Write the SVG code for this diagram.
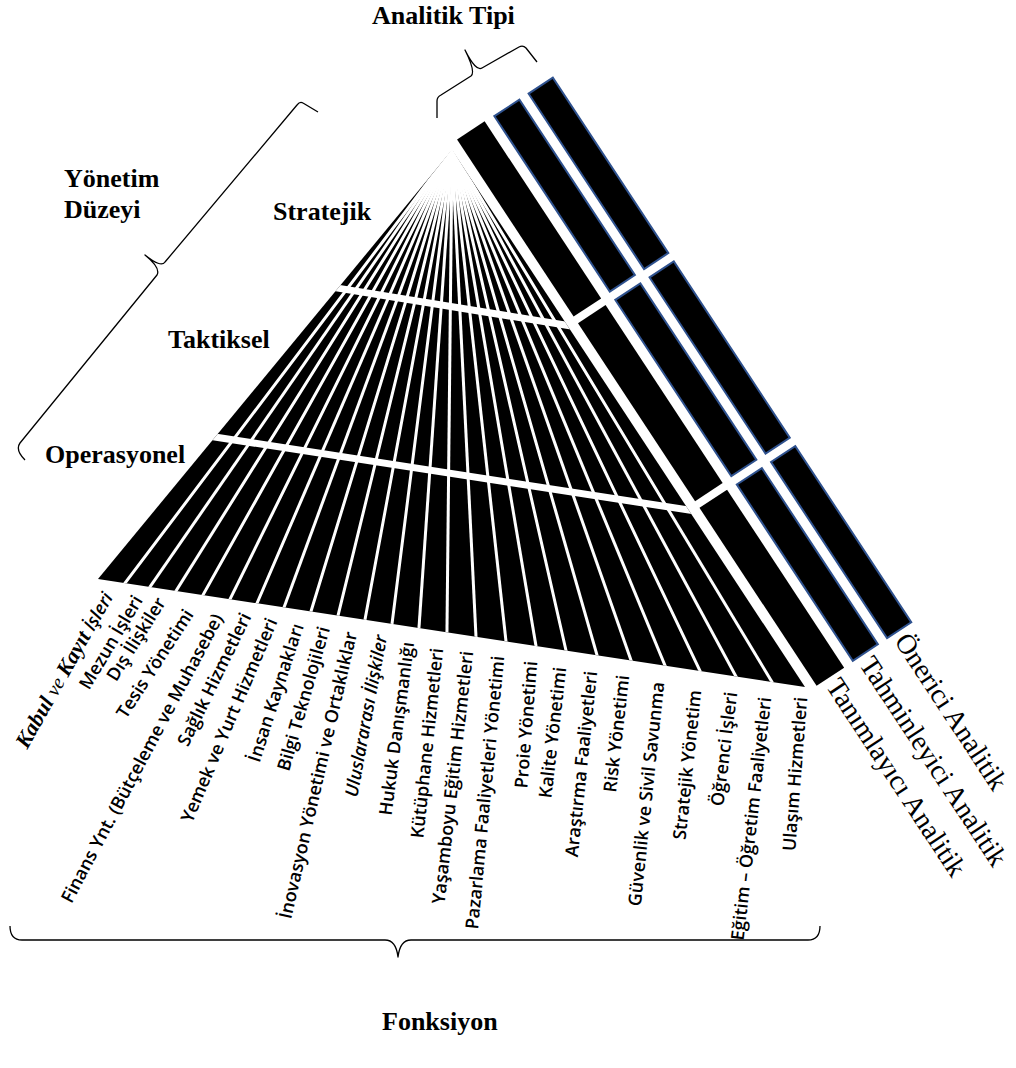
<svg xmlns="http://www.w3.org/2000/svg" width="1016" height="1068" viewBox="0 0 1016 1068">
<style>
  .hdr{font-family:"Liberation Serif","Times New Roman",serif;font-weight:bold;font-size:26px;fill:#000}
  .ana{font-family:"Liberation Serif","Times New Roman",serif;font-size:28px;fill:#000}
  .fn{font-family:"Open Sans","Liberation Sans",sans-serif;font-weight:600;font-size:18px;fill:#000}
  .sbi{font-family:"Liberation Serif","Times New Roman",serif;font-weight:bold;font-style:italic;font-size:22px}
  .si{font-family:"Liberation Serif","Times New Roman",serif;font-weight:normal;font-style:italic;font-size:20px}
  .it{font-style:italic}
  .ray{stroke:#fff;stroke-width:3;stroke-linecap:square}
  .sep{stroke:#fff;stroke-width:7}
  .seg{fill:#000}
  .segb{fill:#000;stroke:#2F528F;stroke-width:2}
  .brace{fill:none;stroke:#000;stroke-width:1.3;stroke-linejoin:round}
</style>
<defs>
  <clipPath id="fanClip"><polygon points="452,150 98,579 805,687"/></clipPath>
</defs>
<rect width="1016" height="1068" fill="#fff"/>

<!-- front face: functions fanned out from the apex, split into three management levels -->
<g id="fan">
  <polygon points="452,150 98,579 805,687" fill="#000"/>
  <g clip-path="url(#fanClip)">
    <g class="ray">
      <line x1="452" y1="150" x2="108.6" y2="604.8"/>
      <line x1="452" y1="150" x2="134.9" y2="608.7"/>
      <line x1="452" y1="150" x2="162.2" y2="613"/>
      <line x1="452" y1="150" x2="190.5" y2="617.3"/>
      <line x1="452" y1="150" x2="218.9" y2="621.7"/>
      <line x1="452" y1="150" x2="247.2" y2="626"/>
      <line x1="452" y1="150" x2="275.6" y2="630.3"/>
      <line x1="452" y1="150" x2="303.9" y2="634.6"/>
      <line x1="452" y1="150" x2="332.3" y2="639"/>
      <line x1="452" y1="150" x2="360.6" y2="643.3"/>
      <line x1="452" y1="150" x2="389" y2="647.6"/>
      <line x1="452" y1="150" x2="417.3" y2="651.9"/>
      <line x1="452" y1="150" x2="446.7" y2="656.4"/>
      <line x1="452" y1="150" x2="477.2" y2="661.1"/>
      <line x1="452" y1="150" x2="508.7" y2="665.9"/>
      <line x1="452" y1="150" x2="540.2" y2="670.7"/>
      <line x1="452" y1="150" x2="571.7" y2="675.5"/>
      <line x1="452" y1="150" x2="604.3" y2="680.5"/>
      <line x1="452" y1="150" x2="640" y2="685.9"/>
      <line x1="452" y1="150" x2="675.7" y2="691.4"/>
      <line x1="452" y1="150" x2="712.4" y2="696.9"/>
      <line x1="452" y1="150" x2="750.2" y2="702.8"/>
      <line x1="452" y1="150" x2="788" y2="708.6"/>
    </g>
    <line class="sep" x1="327" y1="286.4" x2="577.3" y2="327"/>
    <line class="sep" x1="205" y1="435.5" x2="698.8" y2="511.6"/>
  </g>
</g>

<!-- side faces: one strip per analytics type, three segments each -->
<g transform="translate(452,150) rotate(56.65)">
  <g id="strip-descriptive">
    <rect class="seg" x="-6" y="-43" width="212" height="33"/>
    <rect class="seg" x="214" y="-43" width="213" height="33"/>
    <rect class="seg" x="435" y="-43" width="213" height="33"/>
  </g>
  <g id="strip-predictive">
    <rect class="segb" x="-5" y="-84" width="210" height="30"/>
    <rect class="segb" x="215" y="-84" width="211" height="30"/>
    <rect class="segb" x="436" y="-84" width="211" height="30"/>
  </g>
  <g id="strip-prescriptive">
    <rect class="segb" x="-5" y="-124" width="210" height="29"/>
    <rect class="segb" x="215" y="-124" width="211" height="29"/>
    <rect class="segb" x="436" y="-124" width="211" height="29"/>
  </g>
  <g id="analytics-labels" class="ana">
    <text x="653" y="-17">Tanımlayıcı Analitik</text>
    <text x="653" y="-57">Tahminleyici Analitik</text>
    <text x="653" y="-99">Önerici Analitik</text>
  </g>
</g>

<!-- headings -->
<g id="level-labels" class="hdr">
  <text x="372" y="24">Analitik Tipi</text>
  <text x="64" y="187">Yönetim</text>
  <text x="64" y="218">Düzeyi</text>
  <text x="273" y="220">Stratejik</text>
  <text x="168" y="348">Taktiksel</text>
  <text x="45" y="463">Operasyonel</text>
  <text x="382" y="1030">Fonksiyon</text>
</g>

<!-- function names under the fan -->
<g id="function-labels" class="fn" text-anchor="end">
  <text transform="translate(108,594) rotate(-60.5)" dy=".35em"><tspan class="sbi">Kabul</tspan><tspan class="si"> ve </tspan><tspan class="sbi">Kayıt</tspan><tspan class="it"> İşleri</tspan></text>
  <text transform="translate(138,597) rotate(-59)" dy=".35em">Mezun İşleri</text>
  <text transform="translate(161,599) rotate(-58)" dy=".35em">Dış İlişkiler</text>
  <text transform="translate(189,611) rotate(-57)" dy=".35em">Tesis Yönetimi</text>
  <text transform="translate(218,615) rotate(-62)" dy=".35em">Finans Ynt. (Bütçeleme ve Muhasebe)</text>
  <text transform="translate(246,614) rotate(-64)" dy=".35em">Sağlık Hizmetleri</text>
  <text transform="translate(272,619) rotate(-67)" dy=".35em">Yemek ve Yurt Hizmetleri</text>
  <text transform="translate(298,624) rotate(-72)" dy=".35em">İnsan Kaynakları</text>
  <text transform="translate(324,627) rotate(-74)" dy=".35em">Bilgi Teknolojileri</text>
  <text transform="translate(351,632) rotate(-77)" dy=".35em">İnovasyon Yönetimi ve Ortaklıklar</text>
  <text transform="translate(381,635) rotate(-79.5)" dy=".35em" class="it">Uluslararası İlişkiler</text>
  <text transform="translate(408,642) rotate(-82.5)" dy=".35em">Hukuk Danışmanlığı</text>
  <text transform="translate(437,648) rotate(-84)" dy=".35em">Kütüphane Hizmetleri</text>
  <text transform="translate(467,651) rotate(-83.5)" dy=".35em">Yaşamboyu Eğitim Hizmetleri</text>
  <text transform="translate(498,656) rotate(-84.5)" dy=".35em">Pazarlama Faaliyetleri Yönetimi</text>
  <text transform="translate(531,661) rotate(-85.5)" dy=".35em">Proie Yönetimi</text>
  <text transform="translate(560,667) rotate(-83.5)" dy=".35em">Kalite Yönetimi</text>
  <text transform="translate(591,671) rotate(-84)" dy=".35em">Araştırma Faaliyetleri</text>
  <text transform="translate(623,675) rotate(-83.5)" dy=".35em">Risk Yönetimi</text>
  <text transform="translate(658,682) rotate(-84)" dy=".35em">Güvenlik ve Sivil Savunma</text>
  <text transform="translate(695,690) rotate(-84)" dy=".35em">Stratejik Yönetim</text>
  <text transform="translate(731,692) rotate(-83)" dy=".35em">Öğrenci İşleri</text>
  <text transform="translate(765,697) rotate(-83.5)" dy=".35em">Eğitim – Öğretim Faaliyetleri</text>
  <text transform="translate(801,697) rotate(-85.5)" dy=".35em">Ulaşım Hizmetleri</text>
</g>

<!-- curly braces grouping the axes -->
<g id="braces" class="brace">
  <path d="M437,118 L437,101 Q437,97 441,95 L471,76 Q476,72 465,50 Q476,72 482,68 L519,47 Q523,45 526,48 L537,62"/>
  <path d="M318,112 L303,103 Q300,101 297,105 L165,262 Q161,268 145,255 Q161,268 157,275 L20,443 Q15,450 25,460"/>
  <path d="M10,926 Q10,940 22,940 L385,940 Q396,940 398,957 Q400,940 411,940 L808,940 Q820,940 820,926"/>
</g>
</svg>
